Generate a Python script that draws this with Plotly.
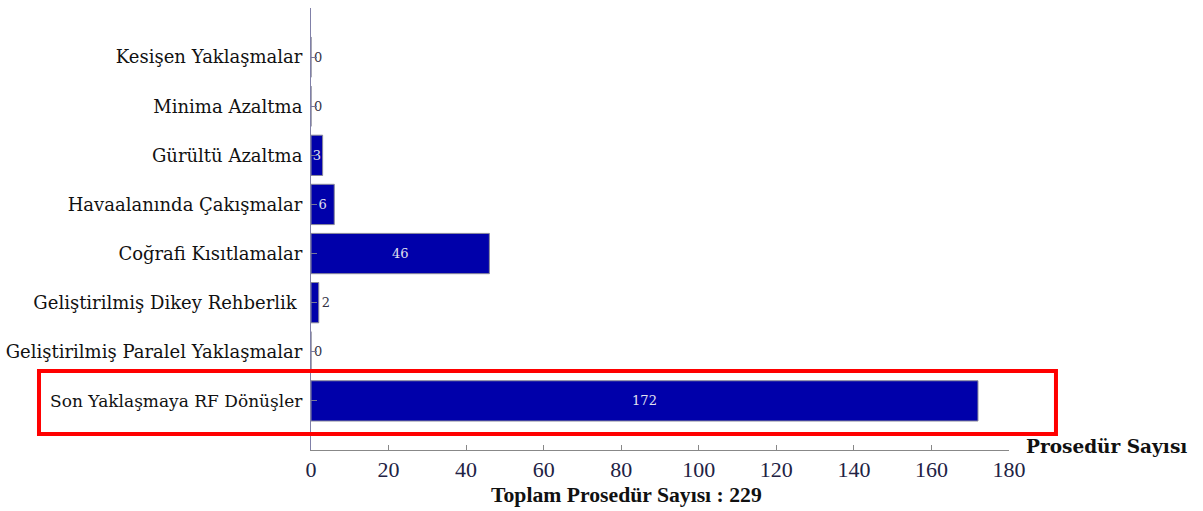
import plotly.graph_objects as go

categories = [
    "Son Yaklaşmaya RF Dönüşler",
    "Geliştirilmiş Paralel Yaklaşmalar",
    "Geliştirilmiş Dikey Rehberlik ",
    "Coğrafi Kısıtlamalar",
    "Havaalanında Çakışmalar",
    "Gürültü Azaltma",
    "Minima Azaltma",
    "Kesişen Yaklaşmalar",
]
values = [172, 0, 2, 46, 6, 3, 0, 0]
x_ticks = [0, 20, 40, 60, 80, 100, 120, 140, 160, 180]
x_title = "Prosedür Sayısı"
total_text = "Toplam Prosedür Sayısı : 229"

text_pos = ["inside" if v >= 3 else "outside" for v in values]
text_col = ["#e0e0ee" if v >= 3 else "#333344" for v in values]

# the highlighted category label is drawn slightly smaller, as in the reference
tick_text = ["<span style='font-size:17px'>" + categories[0] + "</span>"] + categories[1:]

fig = go.Figure()
fig.add_trace(go.Bar(
    y=list(range(len(categories))),
    x=values,
    orientation="h",
    width=0.82,
    marker=dict(color="#0000AA", line=dict(color="#8a8a9a", width=1)),
    text=[str(v) for v in values],
    textposition=text_pos,
    insidetextanchor="middle",
    textfont=dict(family="DejaVu Serif", size=13, color=text_col),
    constraintext="none",
    cliponaxis=False,
    hoverinfo="skip",
))

fig.update_layout(
    width=1203, height=511,
    margin=dict(l=311, r=194, t=8, b=61),
    paper_bgcolor="white", plot_bgcolor="white",
    showlegend=False,
    font=dict(family="Liberation Serif", color="#111111"),
    xaxis=dict(
        range=[0, 180], tickvals=x_ticks, ticks="inside", ticklen=5,
        tickcolor="#888888", showline=True, linecolor="#888888", linewidth=1,
        showgrid=False, zeroline=False, automargin=False,
        tickfont=dict(family="Liberation Serif", size=22, color="#222244"),
    ),
    yaxis=dict(
        range=[-1.0, 8.0], tickvals=list(range(len(categories))),
        ticktext=tick_text, ticks="inside", ticklen=6, tickcolor="#777799",
        showline=True, linecolor="#8080a8", linewidth=1, showgrid=False,
        zeroline=False, ticklabelstandoff=4, automargin=False,
        tickfont=dict(family="DejaVu Serif", size=18.0, color="#111111"),
    ),
)

fig.add_annotation(text="<b>" + x_title + "</b>", xref="paper", yref="paper",
                   x=1.0215, y=0.007, xanchor="left", yanchor="middle", showarrow=False,
                   font=dict(family="DejaVu Serif", size=18.5, color="#111111"))
fig.add_annotation(text="<b>" + total_text + "</b>", xref="paper", yref="paper",
                   x=0.4527, y=-0.102, xanchor="center", yanchor="middle", showarrow=False,
                   font=dict(family="Liberation Serif", size=21.7, color="#111111"))

fig.add_shape(type="rect", xref="paper", yref="y",
              x0=-0.3897, x1=1.0673, y0=-0.672, y1=0.611,
              line=dict(color="#ff0000", width=4), fillcolor="rgba(0,0,0,0)")

fig.write_html("out.html", config={"displayModeBar": False},
               post_script="document.body.style.margin='0';")
